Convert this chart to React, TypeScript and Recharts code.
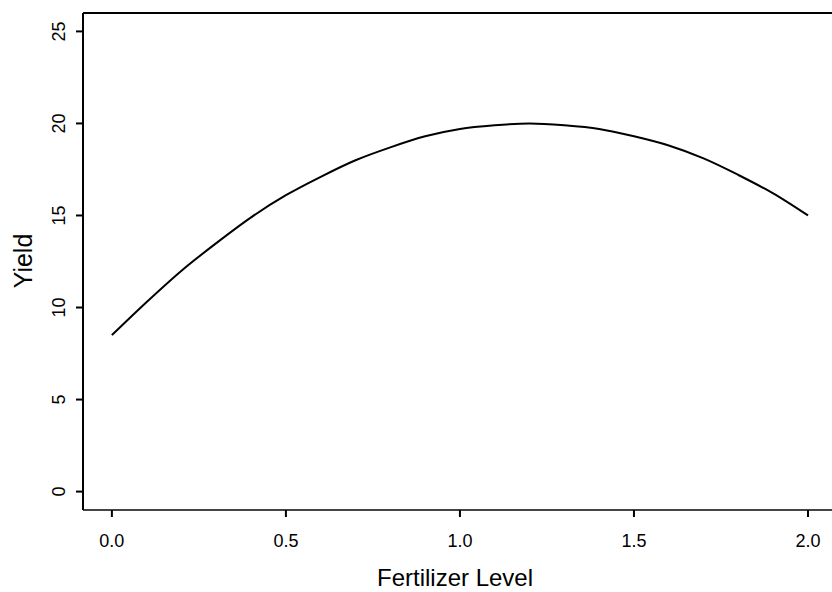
import { LineChart, Line, XAxis, YAxis, ReferenceLine } from "recharts";

// fertilizer level (x) and fitted yield (y)
const LEVELS = [0, 0.1, 0.2, 0.3, 0.4, 0.5, 0.6, 0.7, 0.8, 0.9, 1.0, 1.1, 1.2, 1.3, 1.4, 1.5, 1.6, 1.7, 1.8, 1.9, 2.0];
const YIELDS = [8.5, 10.3, 12.0, 13.5, 14.9, 16.1, 17.1, 18.0, 18.7, 19.3, 19.7, 19.9, 20.0, 19.9, 19.7, 19.3, 18.8, 18.1, 17.2, 16.2, 15.0];
const X_TICKS = [0, 0.5, 1, 1.5, 2];
const Y_TICKS = [0, 5, 10, 15, 20, 25];

const data = LEVELS.map((x, i) => ({ x, y: YIELDS[i] }));

const FONT = '"Liberation Sans", Arial, Helvetica, sans-serif';

function XTick(props: any) {
  const { x, payload } = props;
  return (
    <text x={x} y={547} textAnchor="middle" fontSize={18} fontFamily={FONT} fill="#000">
      {Number(payload.value).toFixed(1)}
    </text>
  );
}

function YTick(props: any) {
  const { y, payload } = props;
  return (
    <text
      x={65}
      y={y}
      transform={`rotate(-90 65 ${y})`}
      textAnchor="middle"
      fontSize={18}
      fontFamily={FONT}
      fill="#000"
    >
      {payload.value}
    </text>
  );
}

export default function App() {
  return (
    <div style={{ position: "absolute", left: 0, top: 0, width: 832, height: 592, background: "#fff" }}>
      <LineChart width={832} height={592} data={data} margin={{ top: 13, right: 0, bottom: 52, left: 23 }}>
        <XAxis
          dataKey="x"
          type="number"
          domain={[-0.083, 2.069]}
          ticks={X_TICKS}
          allowDataOverflow
          height={30}
          axisLine={{ stroke: "#444", strokeWidth: 2 }}
          tickLine={{ stroke: "#000", strokeWidth: 2 }}
          tickSize={7}
          tick={XTick}
        />
        <YAxis
          type="number"
          domain={[-1, 26]}
          ticks={Y_TICKS}
          allowDataOverflow
          width={60}
          axisLine={{ stroke: "#000", strokeWidth: 2 }}
          tickLine={{ stroke: "#000", strokeWidth: 2 }}
          tickSize={7}
          tick={YTick}
        />
        <ReferenceLine y={26} stroke="#000" strokeWidth={2} />
        <Line
          dataKey="y"
          type="monotone"
          stroke="#000"
          strokeWidth={2}
          dot={false}
          isAnimationActive={false}
        />
      </LineChart>
      <svg
        width={832}
        height={592}
        style={{ position: "absolute", left: 0, top: 0, pointerEvents: "none" }}
      >
        <text
          x={32}
          y={261}
          transform="rotate(-90 32 261)"
          textAnchor="middle"
          fontSize={25}
          fontFamily={FONT}
          fill="#000"
        >
          Yield
        </text>
        <text x={455} y={586} textAnchor="middle" fontSize={24} fontFamily={FONT} fill="#000">
          Fertilizer Level
        </text>
      </svg>
    </div>
  );
}
